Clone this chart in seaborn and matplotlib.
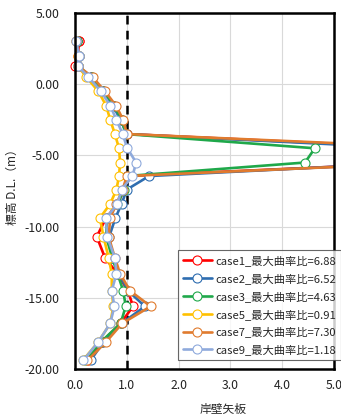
import matplotlib
matplotlib.use("Agg")
import matplotlib.pyplot as plt
import numpy as np
import seaborn as sns

# depth (m, D.L.) of each measuring point
depth = [3.0, 2.0, 1.3, 0.5, -0.5, -1.5, -2.5, -3.5, -4.5, -5.5, -6.45,
         -7.4, -8.4, -9.4, -10.7, -12.2, -13.3, -14.5, -15.6, -16.8, -18.1, -19.4]

case1 = [0.08, 0.05, 0.0, 0.3, 0.55, 0.75, 0.9, 1.0, 6.88, 6.8, 1.0,
         0.95, 0.82, 0.6, 0.42, 0.58, 0.82, 1.02, 1.12, 0.88, 0.52, 0.26]
case2 = [0.03, 0.07, 0.05, 0.3, 0.55, 0.73, 0.88, 1.0, 6.52, 6.6, 1.43,
         1.0, 0.9, 0.78, 0.66, 0.72, 0.85, 1.02, 1.35, 0.9, 0.55, 0.3]
case3 = [0.03, 0.07, 0.05, 0.32, 0.55, 0.76, 0.9, 0.98, 4.63, 4.44, 1.0,
         0.95, 0.82, 0.62, 0.6, 0.72, 0.82, 0.93, 0.98, 0.88, 0.5, 0.2]
case5 = [0.02, 0.05, 0.05, 0.22, 0.45, 0.6, 0.68, 0.77, 0.85, 0.87, 0.85,
         0.8, 0.68, 0.48, 0.55, 0.65, 0.71, 0.71, 0.74, 0.68, 0.45, 0.15]
case7 = [0.02, 0.08, 0.05, 0.34, 0.58, 0.79, 0.93, 1.0, 7.30, 6.97, 1.0,
         0.92, 0.8, 0.68, 0.65, 0.77, 0.87, 1.06, 1.46, 0.91, 0.6, 0.24]
case9 = [0.02, 0.08, 0.05, 0.26, 0.5, 0.68, 0.8, 0.92, 1.01, 1.18, 1.11,
         0.9, 0.82, 0.6, 0.62, 0.77, 0.8, 0.71, 0.76, 0.68, 0.45, 0.16]

labels = ["case1_最大曲率比=6.88", "case2_最大曲率比=6.52", "case3_最大曲率比=4.63",
          "case5_最大曲率比=0.91", "case7_最大曲率比=7.30", "case9_最大曲率比=1.18"]
colors = ["#FF0000", "#2E6DB0", "#1FA84A", "#FFC000", "#E07B2E", "#8FAADC"]

sns.set_style("white")
plt.rcParams["font.family"] = ["Noto Sans CJK JP", "DejaVu Sans"]
plt.rcParams["axes.unicode_minus"] = False

fig = plt.figure(figsize=(3.41, 4.19), dpi=100)
ax = fig.add_axes([75 / 341, 1 - 369 / 419, 259 / 341, 356 / 419])

mk = dict(marker="o", markersize=6.5, markerfacecolor="white", markeredgewidth=0.8)
for vals, lab, col in zip([case1, case2, case3, case5, case7, case9], labels, colors):
    sns.lineplot(x=vals, y=depth, sort=False, estimator=None, orient="y", ax=ax,
                 color=col, linewidth=1.9, markeredgecolor=col, label=lab, **mk)
    # markers near the left axis are drawn unclipped, as in the original
    edge = [(v, d) for v, d in zip(vals, depth) if v < 0.1]
    ax.plot([e[0] for e in edge], [e[1] for e in edge], linestyle="none",
            markeredgecolor=col, clip_on=False, **mk)

ax.axvline(1.0, color="black", linewidth=1.8, linestyle=(0, (3.5, 2.5)), zorder=1.5)

ax.set_xlim(0, 5)
ax.set_ylim(-20, 5)
ax.set_xticks(np.arange(0, 5.1, 1.0))
ax.set_yticks(np.arange(-20, 5.1, 5))
ax.set_xticklabels([f"{v:.1f}" for v in np.arange(0, 5.1, 1.0)])
ax.set_yticklabels([f"{v:.2f}" for v in np.arange(-20, 5.1, 5)])
ax.tick_params(length=0, labelsize=8.8, colors="#222222")
ax.tick_params(axis="y", pad=11)
ax.tick_params(axis="x", pad=7)
ax.grid(True, color="#d9d9d9", linewidth=0.8)
for s in ax.spines.values():
    s.set_color("black")
    s.set_linewidth(1.8)

ax.set_xlabel("岸壁矢板", fontsize=8.5)
ax.xaxis.set_label_coords(0.571, -0.095)
ax.set_ylabel("標高 D.L.（m）", fontsize=8.5)
ax.yaxis.set_label_coords(-0.215, 0.52)

leg = ax.legend(loc="upper right", bbox_to_anchor=(1.0, 1 - 250 / 419),
                bbox_transform=fig.transFigure, borderaxespad=0, fontsize=8.1,
                frameon=True, fancybox=False, edgecolor="#404040",
                handlelength=2.6, labelspacing=0.62, handletextpad=0.3,
                borderpad=0.45)
leg.get_frame().set_linewidth(0.8)
leg.set_zorder(10)

fig.savefig("out.png", dpi=100)
